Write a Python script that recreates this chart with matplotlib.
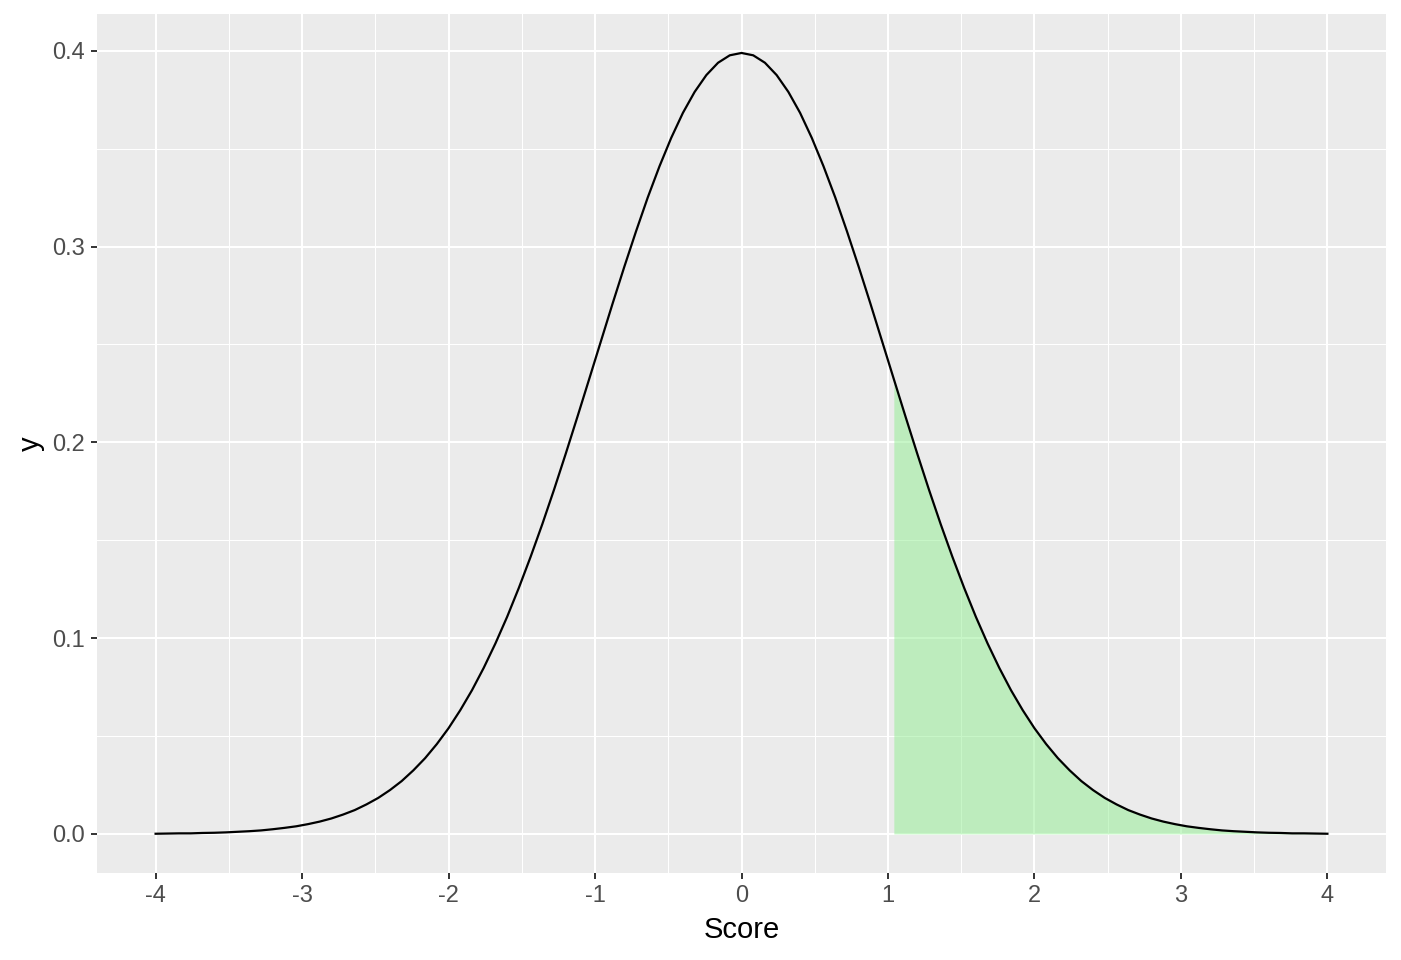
import numpy as np
import matplotlib.pyplot as plt
from matplotlib.ticker import MultipleLocator

# density curve, score from -4 to 4 on 101 points
score = np.round(np.linspace(-4, 4, 101), 2)
half = [0.0001, 0.0002, 0.0003, 0.0003, 0.0005, 0.0006, 0.0008, 0.0011, 0.0014, 0.0018,
        0.0024, 0.0031, 0.0039, 0.0050, 0.0063, 0.0079, 0.0099, 0.0122, 0.0151, 0.0184,
        0.0224, 0.0270, 0.0325, 0.0387, 0.0459, 0.0540, 0.0632, 0.0734, 0.0848, 0.0973,
        0.1109, 0.1257, 0.1415, 0.1582, 0.1758, 0.1942, 0.2131, 0.2323, 0.2516, 0.2709,
        0.2897, 0.3078, 0.3251, 0.3410, 0.3555, 0.3683, 0.3790, 0.3876, 0.3939, 0.3977]
density = np.array(half + [0.3989] + half[::-1])

# shaded upper tail starts here
shade_start = 1.04

plt.rcParams['font.family'] = ['Liberation Sans', 'DejaVu Sans']
fig = plt.figure(figsize=(14.01, 9.6), dpi=100)
ax = fig.add_axes([97/1401, 1-873/960, (1386-97)/1401, (873-14)/960])
ax.set_facecolor('#EBEBEB')

mask = score >= shade_start - 1e-9
ax.fill_between(score[mask], 0, density[mask], color='lightgreen', alpha=0.5,
                linewidth=0, zorder=2)
ax.plot(score, density, color='black', lw=1.6, zorder=3)

ax.set_xlim(-4.4, 4.4)
ax.set_ylim(-0.01995, 0.4188)
ax.xaxis.set_minor_locator(MultipleLocator(0.5))
ax.yaxis.set_minor_locator(MultipleLocator(0.05))
ax.set_xticks(range(-4, 5))
ax.set_xticklabels([str(i) for i in range(-4, 5)])
ax.set_yticks([0, 0.1, 0.2, 0.3, 0.4])
ax.set_yticklabels(['0.0', '0.1', '0.2', '0.3', '0.4'])

ax.grid(which='major', color='white', lw=1.5, zorder=0)
ax.grid(which='minor', color='white', lw=0.75, zorder=0)
ax.set_axisbelow(True)
for s in ax.spines.values():
    s.set_visible(False)
ax.tick_params(which='major', length=4, width=1.4, color='#333333',
               labelcolor='#4D4D4D', labelsize=17, pad=5)
ax.tick_params(which='minor', length=0)

ax.set_xlabel('Score', fontsize=21, labelpad=6)
ax.set_ylabel('y', fontsize=21, labelpad=5)

fig.savefig('out.png', dpi=100)
